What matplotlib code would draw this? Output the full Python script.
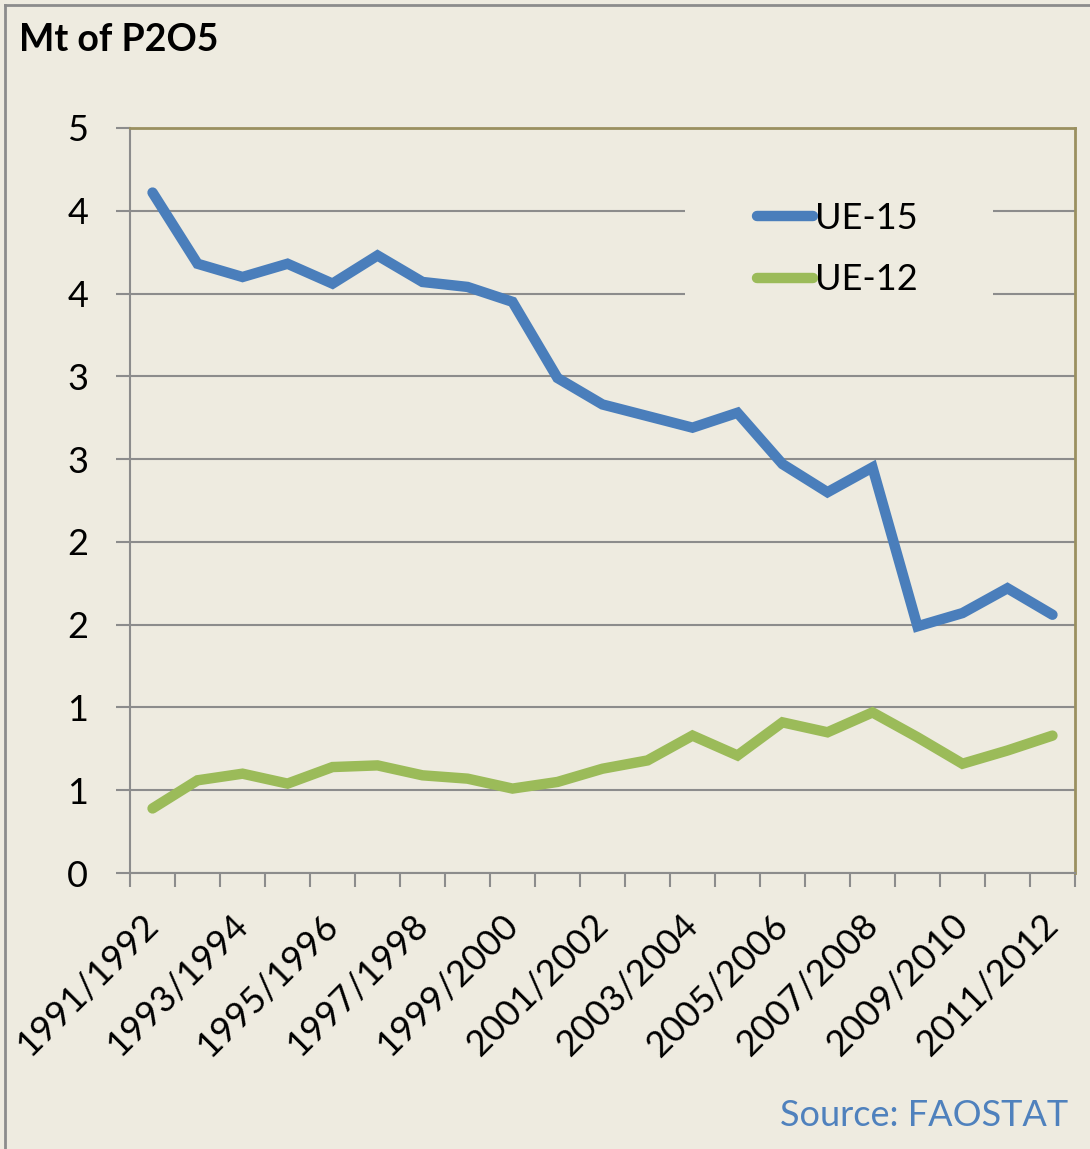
import math
import matplotlib
matplotlib.use("Agg")
import matplotlib.pyplot as plt
from matplotlib.ticker import FixedLocator, FuncFormatter
from matplotlib.patches import Rectangle
from matplotlib.lines import Line2D

# Data (Mt of P2O5)
seasons = ["1991/1992", "1992/1993", "1993/1994", "1994/1995", "1995/1996",
           "1996/1997", "1997/1998", "1998/1999", "1999/2000", "2000/2001",
           "2001/2002", "2002/2003", "2003/2004", "2004/2005", "2005/2006",
           "2006/2007", "2007/2008", "2008/2009", "2009/2010", "2010/2011",
           "2011/2012"]
ue15 = [4.11, 3.68, 3.60, 3.68, 3.56, 3.73, 3.57, 3.54, 3.45, 2.99, 2.83,
        2.76, 2.69, 2.78, 2.47, 2.30, 2.45, 1.49, 1.57, 1.72, 1.56]
ue12 = [0.39, 0.56, 0.60, 0.54, 0.64, 0.65, 0.59, 0.57, 0.51, 0.55, 0.63,
        0.68, 0.83, 0.71, 0.91, 0.85, 0.97, 0.82, 0.66, 0.74, 0.83]
y_ticks = [0, 0.5, 1, 1.5, 2, 2.5, 3, 3.5, 4, 4.5]

bg = "#EEEBE0"
grid_c = "#8C8C8C"
frame_c = "#9A9060"
blue = "#4A7EBB"
green = "#9BBB59"

plt.rcParams["font.family"] = ["Lato", "DejaVu Sans"]

fig = plt.figure(figsize=(10.9, 11.49), dpi=100, facecolor=bg)
ax = fig.add_axes([0.1193, 0.2402, 0.8669, 0.6484], facecolor=bg)

x = list(range(len(seasons)))
ax.plot(x, ue15, color=blue, lw=7.5, solid_capstyle="round",
        solid_joinstyle="miter", zorder=4, label="UE-15")
ax.plot(x, ue12, color=green, lw=7.5, solid_capstyle="round",
        solid_joinstyle="miter", zorder=4, label="UE-12")

ax.set_xlim(-0.5, len(seasons) - 0.5)
ax.set_ylim(0, 4.5)

# y axis: Excel style rounding of 0.5 steps
ax.yaxis.set_major_locator(FixedLocator(y_ticks))
ax.yaxis.set_major_formatter(FuncFormatter(lambda v, p: str(int(math.floor(v + 0.5 + 1e-9)))))
ax.tick_params(axis="y", length=10, width=1.5, color=grid_c, pad=20,
               labelsize=26, direction="out")
ax.yaxis.grid(True, color=grid_c, lw=1.5)
ax.set_axisbelow(True)

# x axis: boundary ticks, every other label
ax.set_xticks(x[::2])
ax.set_xticklabels(seasons[::2], rotation=45, ha="right", va="center",
                   rotation_mode="anchor", fontsize=26)
ax.set_xticks([i - 0.5 for i in range(len(seasons) + 1)], minor=True)
ax.tick_params(axis="x", which="major", length=0, pad=34)
ax.tick_params(axis="x", which="minor", length=10, width=1.5, color=grid_c,
               direction="out")

for side in ["left", "bottom"]:
    ax.spines[side].set_color(grid_c)
    ax.spines[side].set_linewidth(1.5)
for side in ["top", "right"]:
    ax.spines[side].set_color(frame_c)
    ax.spines[side].set_linewidth(2)

# legend area covers the gridlines
ax.add_patch(Rectangle((0.587, 0.742), 0.326, 0.188, transform=ax.transAxes,
                       facecolor=bg, edgecolor="none", zorder=3))
ax.legend(loc="center left", bbox_to_anchor=(0.664, 0.8376), frameon=False,
          fontsize=26, handlelength=1.55, handletextpad=0.05, labelspacing=0.8,
          borderpad=0, borderaxespad=0)

fig.text(0.017, 0.965, "Mt of P2O5", fontsize=27, fontweight="bold",
         ha="left", va="center")
fig.text(0.98, 0.029, "Source: FAOSTAT", fontsize=26, color="#4F81BD",
         ha="right", va="center")

# outer border (left and top edges)
fig.add_artist(Line2D([0.005, 0.005], [0, 0.996], transform=fig.transFigure,
                      color="#8C8C8C", lw=2))
fig.add_artist(Line2D([0.005, 1], [0.996, 0.996], transform=fig.transFigure,
                      color="#8C8C8C", lw=2))

fig.savefig("out.png", dpi=100, facecolor=bg)
